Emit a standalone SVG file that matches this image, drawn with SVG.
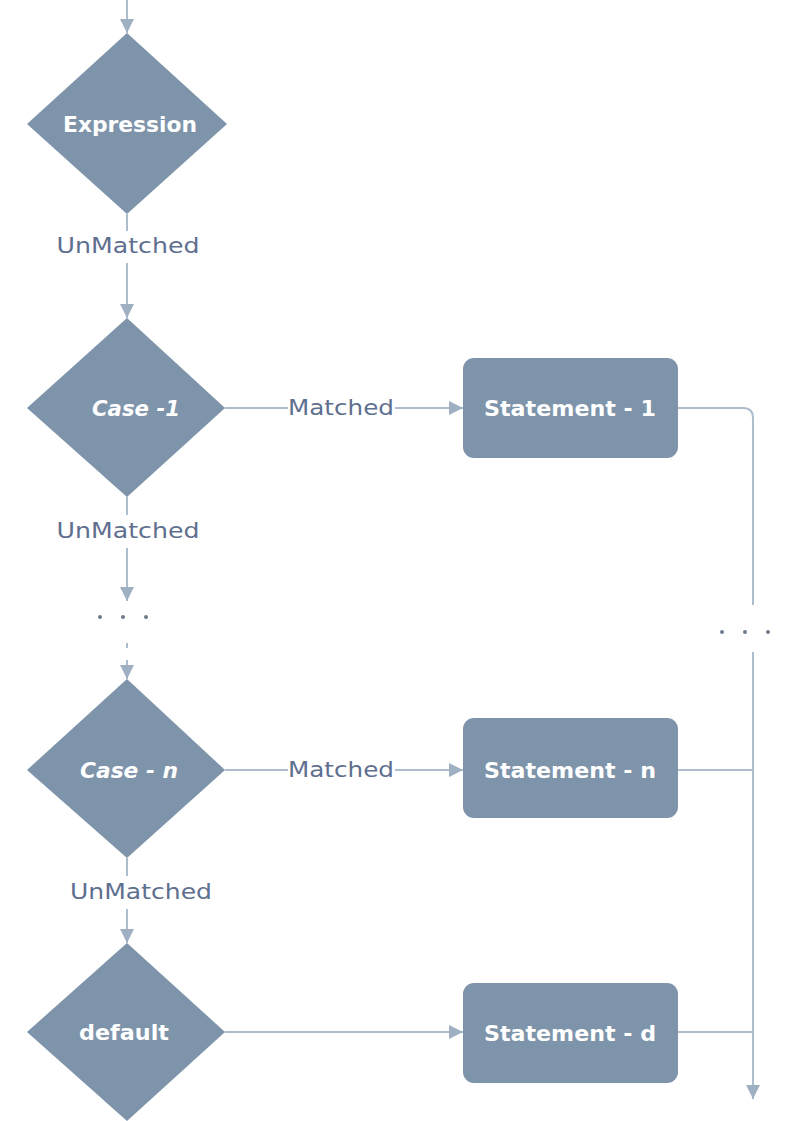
<svg xmlns="http://www.w3.org/2000/svg" width="787" height="1121" viewBox="0 0 787 1121">
  <style>
    .node { fill: #7e94aa; }
    .ntext { fill: #ffffff; font-family: "DejaVu Sans", "Liberation Sans", sans-serif; font-size: 21px; font-weight: bold; text-anchor: middle; dominant-baseline: central; }
    .ital { font-style: italic; }
    .link { stroke: #aebdcd; stroke-width: 2; fill: none; }
    .lbl { fill: #5f6f8f; font-family: "DejaVu Sans", "Liberation Sans", sans-serif; font-size: 21px; text-anchor: middle; dominant-baseline: central; }
    .dot { fill: #6e7b8c; }
  </style>
  <defs>
    <marker id="arrow" viewBox="0 0 14 14" refX="14" refY="7" markerWidth="14" markerHeight="14" markerUnits="userSpaceOnUse" orient="auto">
      <path d="M0,0 L14,7 L0,14 Z" fill="#9fb0c2"/>
    </marker>
  </defs>
  <rect width="787" height="1121" fill="#ffffff"/>

  <g id="connectors">
    <!-- entry -->
    <line class="link" x1="127" y1="0" x2="127" y2="33" marker-end="url(#arrow)"/>
    <!-- Expression -> Case -1 -->
    <line class="link" x1="127" y1="214" x2="127" y2="231"/>
    <line class="link" x1="127" y1="263" x2="127" y2="318" marker-end="url(#arrow)"/>
    <text class="lbl" x="128" y="246" textLength="143" lengthAdjust="spacingAndGlyphs">UnMatched</text>
    <!-- Case -1 -> Statement - 1 -->
    <line class="link" x1="225" y1="408" x2="288" y2="408"/>
    <line class="link" x1="395" y1="408" x2="463" y2="408" marker-end="url(#arrow)"/>
    <text class="lbl" x="341" y="408" textLength="106" lengthAdjust="spacingAndGlyphs">Matched</text>
    <!-- Case -1 -> ... -->
    <line class="link" x1="127" y1="497" x2="127" y2="515"/>
    <line class="link" x1="127" y1="548" x2="127" y2="601" marker-end="url(#arrow)"/>
    <text class="lbl" x="128" y="531" textLength="143" lengthAdjust="spacingAndGlyphs">UnMatched</text>
    <circle class="dot" cx="100" cy="617" r="2"/>
    <circle class="dot" cx="123" cy="617" r="2"/>
    <circle class="dot" cx="146" cy="617" r="2"/>
    <!-- ... -> Case - n -->
    <line class="link" x1="127" y1="643" x2="127" y2="648"/>
    <line class="link" x1="127" y1="660" x2="127" y2="679" marker-end="url(#arrow)"/>
    <!-- Case - n -> Statement - n -->
    <line class="link" x1="225" y1="770" x2="288" y2="770"/>
    <line class="link" x1="395" y1="770" x2="463" y2="770" marker-end="url(#arrow)"/>
    <text class="lbl" x="341" y="770" textLength="106" lengthAdjust="spacingAndGlyphs">Matched</text>
    <!-- Case - n -> default -->
    <line class="link" x1="127" y1="858" x2="127" y2="876"/>
    <line class="link" x1="127" y1="909" x2="127" y2="943" marker-end="url(#arrow)"/>
    <text class="lbl" x="141" y="892" textLength="142" lengthAdjust="spacingAndGlyphs">UnMatched</text>
    <!-- default -> Statement - d -->
    <line class="link" x1="225" y1="1032" x2="463" y2="1032" marker-end="url(#arrow)"/>
    <!-- statements -> exit bus -->
    <path class="link" d="M678,408 H743 Q753,408 753,418 V605"/>
    <circle class="dot" cx="722" cy="632" r="2"/>
    <circle class="dot" cx="745" cy="632" r="2"/>
    <circle class="dot" cx="768" cy="632" r="2"/>
    <line class="link" x1="753" y1="652" x2="753" y2="1099" marker-end="url(#arrow)"/>
    <line class="link" x1="678" y1="770" x2="753" y2="770"/>
    <line class="link" x1="678" y1="1032" x2="753" y2="1032"/>
  </g>

  <g id="expression">
    <polygon class="node" points="127,33 227,124 127,214 27,124"/>
    <text class="ntext" x="130" y="125" textLength="134" lengthAdjust="spacingAndGlyphs">Expression</text>
  </g>
  <g id="case-1">
    <polygon class="node" points="127,318 225,408 127,497 27,408"/>
    <text class="ntext ital" x="136" y="409" textLength="88" lengthAdjust="spacingAndGlyphs">Case -1</text>
  </g>
  <g id="statement-1">
    <rect class="node" x="463" y="358" width="215" height="100" rx="11"/>
    <text class="ntext" x="570" y="409" textLength="172" lengthAdjust="spacingAndGlyphs">Statement - 1</text>
  </g>
  <g id="case-n">
    <polygon class="node" points="127,679 225,770 127,858 27,770"/>
    <text class="ntext ital" x="129" y="771" textLength="98" lengthAdjust="spacingAndGlyphs">Case - n</text>
  </g>
  <g id="statement-n">
    <rect class="node" x="463" y="718" width="215" height="100" rx="11"/>
    <text class="ntext" x="570" y="771" textLength="172" lengthAdjust="spacingAndGlyphs">Statement - n</text>
  </g>
  <g id="default">
    <polygon class="node" points="127,943 225,1032 127,1121 27,1032"/>
    <text class="ntext" x="124" y="1033" textLength="90" lengthAdjust="spacingAndGlyphs">default</text>
  </g>
  <g id="statement-d">
    <rect class="node" x="463" y="983" width="215" height="100" rx="11"/>
    <text class="ntext" x="570" y="1034" textLength="172" lengthAdjust="spacingAndGlyphs">Statement - d</text>
  </g>
</svg>
